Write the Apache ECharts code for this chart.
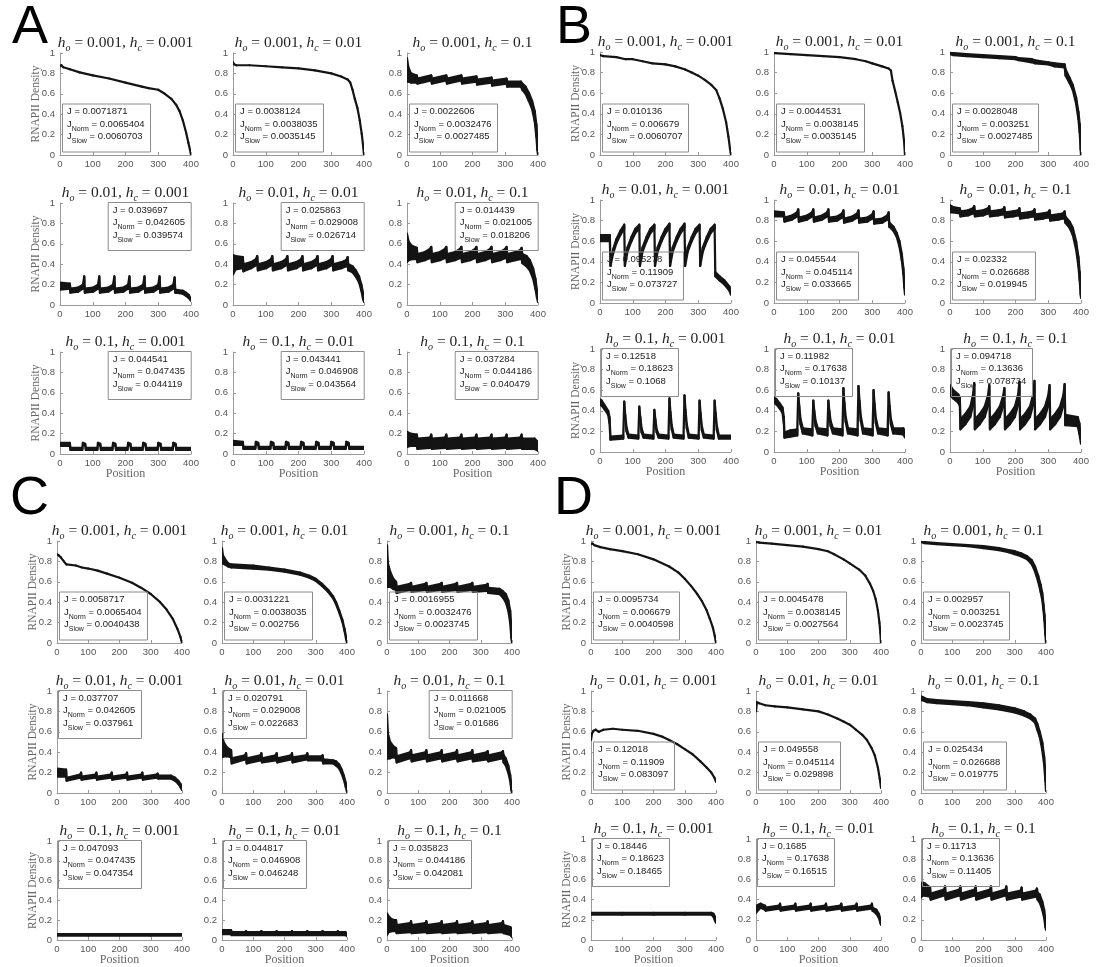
<!DOCTYPE html>
<html>
<head>
<meta charset="utf-8">
<script src="https://cdn.jsdelivr.net/npm/echarts@6/dist/echarts.min.js"></script>
<style>
  html, body { margin: 0; padding: 0; background: #ffffff; }
  #chart { width: 1097px; height: 967px; }
</style>
</head>
<body>
<div id="chart"></div>
<script>
// ---------------------------------------------------------------------------
// Parameter labels (rows: h_o, columns: h_c) and axis ticks
// ---------------------------------------------------------------------------
const hoValues = ['0.001', '0.01', '0.1'];
const hcValues = ['0.001', '0.01', '0.1'];
const positionTicks = [0, 100, 200, 300, 400];
const densityTicks = [0, 0.2, 0.4, 0.6, 0.8, 1];

// ---------------------------------------------------------------------------
// Density profiles. Each point is [position, density] or, where the trace is a
// noisy band, [position, lower edge, upper edge].
// ---------------------------------------------------------------------------
const A_11 = [[0,.87],[4,.88],[10,.86],[30,.84],[60,.81],[100,.78],[150,.75],[200,.71],[250,.67],[270,.655],[300,.64],[320,.60],[340,.55],[355,.49],[365,.43],[375,.34],[385,.22],[392,.12],[397,.05],[400,0]];
const A_12 = [[0,.91],[3,.89],[10,.88],[50,.88],[100,.87],[150,.86],[200,.85],[250,.83],[300,.80],[330,.77],[350,.74],[358,.71],[365,.64],[372,.55],[380,.46],[387,.34],[393,.21],[397,.10],[400,0]];
const A_13 = [[0,.72,.95],[4,.72,.86],[12,.71,.80],[30,.71,.78],[32,.70,.75],[74,.73,.78],[76,.70,.75],[120,.73,.78],[122,.70,.75],[166,.73,.78],[168,.70,.75],[212,.72,.77],[214,.69,.74],[258,.71,.76],[260,.68,.73],[304,.70,.75],[306,.67,.72],[348,.67,.72],[352,.64,.70],[362,.60,.67],[372,.53,.61],[382,.45,.53],[390,.33,.43],[395,.18,.30],[398,.05,.15],[400,0,.03]];
const A_21 = [[0,.15,.22],[30,.16,.21],[32,.12,.16],
  [55,.13,.17],[70,.16,.20],[74,.22,.28],[76,.12,.16],
  [101,.13,.17],[116,.16,.20],[120,.22,.28],[122,.12,.16],
  [147,.13,.17],[162,.16,.20],[166,.22,.28],[168,.12,.16],
  [193,.13,.17],[208,.16,.20],[212,.22,.28],[214,.12,.16],
  [239,.13,.17],[254,.16,.20],[258,.22,.28],[260,.12,.16],
  [285,.13,.17],[300,.16,.20],[304,.22,.28],[306,.12,.16],
  [331,.13,.17],[346,.16,.20],[350,.22,.27],[352,.12,.15],
  [375,.11,.14],[385,.09,.12],[393,.07,.10],[400,.04,.06]];
const A_22 = [[0,.30,.49],[8,.35,.48],[30,.36,.47],[32,.33,.40],
  [55,.36,.42],[70,.39,.45],[74,.42,.48],[76,.34,.40],
  [101,.36,.42],[116,.39,.45],[120,.42,.48],[122,.34,.40],
  [147,.36,.42],[162,.39,.45],[166,.42,.48],[168,.34,.40],
  [193,.36,.42],[208,.39,.45],[212,.42,.48],[214,.34,.40],
  [239,.36,.42],[254,.39,.45],[258,.42,.48],[260,.34,.40],
  [285,.36,.42],[300,.39,.45],[304,.42,.48],[306,.34,.40],
  [331,.36,.42],[346,.38,.44],[350,.41,.47],[352,.34,.40],
  [365,.32,.38],[375,.28,.34],[385,.22,.28],[392,.14,.20],[397,.06,.12],[400,.03,.06]];
const A_23 = [[0,.42,.70],[5,.44,.62],[15,.45,.58],[30,.45,.56],[32,.42,.50],
  [55,.44,.52],[70,.46,.55],[74,.48,.57],[76,.42,.50],
  [101,.44,.52],[116,.46,.55],[120,.48,.57],[122,.42,.50],
  [147,.44,.52],[162,.46,.55],[166,.48,.57],[168,.42,.50],
  [193,.44,.52],[208,.46,.55],[212,.48,.57],[214,.42,.50],
  [239,.44,.52],[254,.46,.55],[258,.48,.57],[260,.42,.50],
  [285,.44,.52],[300,.46,.55],[304,.48,.57],[306,.42,.50],
  [331,.44,.52],[346,.45,.54],[350,.47,.56],[352,.41,.50],
  [365,.38,.48],[375,.34,.44],[385,.26,.36],[392,.16,.26],[397,.07,.14],[400,.03,.06]];
const A_31 = [[0,.08,.11],[30,.08,.11],[32,.04,.06],
  [68,.04,.06],[70,.09,.11],[77,.08,.10],[79,.04,.06],
  [114,.04,.06],[116,.09,.11],[123,.08,.10],[125,.04,.06],
  [160,.04,.06],[162,.09,.11],[169,.08,.10],[171,.04,.06],
  [206,.04,.06],[208,.09,.11],[215,.08,.10],[217,.04,.06],
  [252,.04,.06],[254,.09,.11],[261,.08,.10],[263,.04,.06],
  [298,.04,.06],[300,.09,.11],[307,.08,.10],[309,.04,.06],
  [344,.04,.06],[346,.09,.11],[353,.08,.10],[355,.04,.06],
  [400,.04,.06]];
const A_32 = [[0,.09,.13],[30,.09,.12],[32,.05,.07],
  [68,.05,.07],[70,.09,.12],[77,.09,.11],[79,.05,.07],
  [114,.05,.07],[116,.09,.12],[123,.09,.11],[125,.05,.07],
  [160,.05,.07],[162,.09,.12],[169,.09,.11],[171,.05,.07],
  [206,.05,.07],[208,.09,.12],[215,.09,.11],[217,.05,.07],
  [252,.05,.07],[254,.09,.12],[261,.09,.11],[263,.05,.07],
  [298,.05,.07],[300,.09,.12],[307,.09,.11],[309,.05,.07],
  [344,.05,.07],[346,.09,.12],[353,.09,.11],[355,.05,.07],
  [400,.05,.07]];
const A_33 = [[0,.07,.22],[10,.08,.20],[30,.08,.19],[32,.05,.15],
  [70,.06,.16],[74,.08,.19],[76,.05,.15],
  [116,.06,.16],[120,.08,.19],[122,.05,.15],
  [162,.06,.16],[166,.08,.19],[168,.05,.15],
  [208,.06,.16],[212,.08,.19],[214,.05,.15],
  [254,.06,.16],[258,.08,.19],[260,.05,.15],
  [300,.06,.16],[304,.08,.19],[306,.05,.15],
  [346,.06,.16],[350,.08,.19],[352,.05,.15],
  [390,.05,.15],[396,.04,.13],[400,.03,.10]];

const B_11 = [[0,.97],[10,.96],[50,.95],[78,.93],[100,.93],[130,.91],[160,.89],[200,.88],[230,.86],[260,.83],[280,.80],[300,.77],[320,.73],[340,.68],[355,.63],[365,.55],[375,.45],[385,.32],[392,.18],[397,.06],[400,0]];
const B_12 = [[0,.99],[50,.98],[100,.97],[150,.96],[200,.95],[250,.93],[280,.91],[300,.89],[330,.86],[350,.84],[357,.82],[362,.72],[370,.62],[378,.51],[385,.41],[392,.28],[397,.14],[400,0]];
const B_13 = [[0,.98,1.0],[10,.97,.99],[50,.96,.98],[100,.95,.97],[150,.94,.96],[200,.93,.95],[210,.92,.94],[250,.90,.93],[260,.89,.92],[300,.88,.90],[320,.86,.89],[350,.85,.88],[353,.77,.83],[365,.70,.75],[375,.63,.68],[385,.50,.56],[392,.35,.42],[396,.22,.30],[399,.05,.15],[400,0,.02]];
const B_21 = [[0,.60,.66],[30,.60,.66],[32,.36,.40],[40,.48,.52],[50,.58,.62],[62,.66,.70],[74,.72,.76],
  [76,.36,.40],[84,.50,.54],[96,.60,.64],[108,.68,.72],[120,.72,.76],
  [122,.36,.40],[130,.50,.54],[142,.60,.64],[154,.68,.72],[166,.72,.76],
  [168,.36,.40],[176,.50,.54],[188,.60,.64],[200,.68,.72],[212,.73,.77],
  [214,.36,.40],[222,.50,.54],[234,.60,.64],[246,.68,.72],[258,.73,.77],
  [260,.36,.40],[268,.50,.54],[280,.60,.64],[292,.68,.72],[304,.72,.76],
  [306,.36,.40],[314,.50,.54],[326,.60,.64],[338,.68,.72],[350,.72,.76],
  [352,.26,.30],[365,.22,.26],[380,.18,.22],[395,.12,.16],[400,.08,.11]];
const B_22 = [[0,.84,.89],[30,.84,.88],[32,.79,.83],
  [55,.81,.85],[70,.84,.88],[74,.87,.91],[76,.79,.83],
  [101,.81,.85],[116,.84,.88],[120,.87,.91],[122,.79,.83],
  [147,.81,.85],[162,.84,.88],[166,.87,.91],[168,.79,.83],
  [193,.80,.84],[208,.83,.87],[212,.86,.90],[214,.78,.82],
  [239,.80,.84],[254,.83,.87],[258,.86,.90],[260,.78,.82],
  [285,.79,.83],[300,.82,.86],[304,.85,.89],[306,.77,.81],
  [331,.78,.82],[346,.81,.85],[350,.84,.88],[352,.74,.78],
  [365,.70,.74],[375,.64,.68],[383,.55,.60],[390,.42,.48],[395,.28,.34],[398,.15,.20],[400,.08,.12]];
const B_23 = [[0,.88,.95],[10,.88,.93],[30,.87,.92],[32,.84,.89],
  [55,.85,.90],[70,.87,.92],[74,.89,.94],[76,.84,.89],
  [101,.85,.90],[116,.87,.92],[120,.89,.94],[122,.84,.89],
  [147,.85,.90],[162,.86,.91],[166,.88,.93],[168,.83,.88],
  [193,.84,.89],[208,.85,.90],[212,.87,.92],[214,.82,.87],
  [239,.83,.88],[254,.84,.89],[258,.86,.91],[260,.81,.86],
  [285,.82,.87],[300,.83,.88],[304,.85,.90],[306,.80,.85],
  [331,.81,.86],[346,.82,.87],[350,.84,.89],[352,.78,.84],
  [365,.73,.79],[375,.66,.73],[385,.52,.60],[392,.36,.45],[396,.22,.30],[399,.08,.15],[400,.05,.08]];
const B_31 = [[0,.46,.51],[5,.45,.50],[15,.41,.45],[25,.36,.40],[29,.28,.34],[32,.12,.15],
  [71,.13,.16],[74,.46,.49],[77,.32,.36],[81,.20,.24],[87,.14,.17],
  [117,.13,.16],[120,.41,.44],[123,.30,.34],[127,.19,.23],[133,.14,.17],
  [163,.13,.16],[166,.38,.41],[169,.28,.32],[173,.19,.22],[179,.14,.17],
  [209,.13,.16],[212,.49,.52],[215,.35,.39],[219,.22,.26],[225,.14,.17],
  [255,.13,.16],[258,.52,.55],[261,.37,.41],[265,.23,.27],[271,.14,.17],
  [301,.13,.16],[304,.47,.50],[307,.34,.38],[311,.21,.25],[317,.14,.17],
  [347,.13,.16],[350,.47,.50],[353,.34,.38],[357,.21,.25],[363,.13,.16],
  [400,.13,.16]];
const B_32 = [[0,.48,.53],[8,.46,.51],[18,.42,.47],[26,.38,.43],[30,.28,.34],[32,.14,.19],
  [50,.15,.21],[71,.16,.22],[74,.53,.57],[77,.40,.45],[81,.27,.32],[88,.18,.23],
  [117,.16,.22],[120,.46,.50],[123,.36,.40],[127,.25,.30],[134,.18,.23],
  [163,.16,.22],[166,.46,.50],[169,.36,.40],[173,.25,.30],[180,.18,.23],
  [209,.16,.22],[212,.58,.62],[215,.43,.48],[219,.29,.34],[226,.18,.23],
  [255,.16,.22],[258,.60,.64],[261,.45,.50],[265,.30,.35],[272,.18,.23],
  [301,.16,.22],[304,.56,.60],[307,.42,.47],[311,.28,.33],[318,.18,.23],
  [347,.16,.22],[350,.54,.58],[353,.40,.45],[357,.27,.32],[364,.18,.23],
  [395,.17,.23],[400,.14,.18]];
const B_33 = [[0,.55,.65],[10,.52,.60],[25,.48,.56],[30,.45,.53],[32,.22,.32],
  [47,.27,.37],[62,.34,.44],[70,.45,.55],[74,.58,.67],[76,.22,.32],
  [91,.27,.37],[106,.34,.44],[116,.45,.55],[120,.56,.65],[122,.22,.32],
  [137,.27,.37],[152,.34,.44],[162,.44,.54],[166,.54,.62],[168,.22,.32],
  [183,.27,.37],[198,.34,.44],[208,.46,.56],[212,.60,.68],[214,.22,.32],
  [229,.27,.37],[244,.34,.44],[254,.46,.56],[258,.60,.69],[260,.22,.32],
  [275,.27,.37],[290,.34,.44],[300,.45,.55],[304,.56,.65],[306,.22,.32],
  [321,.27,.37],[336,.34,.44],[346,.45,.55],[350,.58,.66],[352,.26,.36],
  [390,.25,.34],[395,.18,.28],[400,.08,.12]];

const C_11 = [[0,.87],[5,.86],[12,.84],[22,.80],[30,.77],[60,.76],[80,.74],[100,.73],[130,.71],[160,.68],[200,.64],[240,.59],[270,.54],[300,.48],[330,.40],[350,.33],[370,.24],[385,.14],[395,.06],[400,0]];
const C_12 = [[0,.78,.93],[3,.78,.86],[10,.77,.82],[20,.75,.78],[30,.74,.77],[100,.73,.76],[150,.72,.74],[200,.70,.72],[250,.67,.69],[280,.64,.66],[300,.61,.63],[320,.56,.58],[340,.50,.52],[355,.44,.46],[365,.38,.40],[375,.30,.32],[385,.21,.23],[392,.12,.14],[397,.04,.06],[400,0,.01]];
const C_13 = [[0,.55,.96],[3,.55,.78],[10,.55,.70],[20,.53,.63],[29,.52,.60],[31,.49,.55],
  [74,.52,.58],[77,.53,.59],[79,.50,.55],[123,.52,.58],[126,.53,.59],[128,.50,.55],
  [172,.52,.58],[175,.53,.59],[177,.50,.55],[221,.52,.58],[224,.53,.59],[226,.50,.55],
  [270,.52,.58],[273,.53,.59],[275,.50,.55],[319,.51,.57],[322,.52,.58],[324,.49,.54],
  [360,.48,.53],[370,.45,.51],[380,.40,.48],[388,.32,.42],[394,.20,.32],[398,.05,.15],[400,0,.02]];
const C_21 = [[0,.16,.24],[29,.16,.23],[31,.12,.15],
  [74,.15,.18],[77,.17,.20],[79,.13,.16],[123,.15,.18],[126,.17,.20],[128,.13,.16],
  [172,.15,.18],[175,.17,.20],[177,.13,.16],[221,.15,.18],[224,.17,.20],[226,.13,.16],
  [270,.15,.18],[273,.17,.20],[275,.13,.16],[319,.15,.18],[322,.16,.19],[324,.14,.17],
  [365,.14,.17],[378,.12,.15],[388,.09,.12],[395,.06,.09],[400,.03,.05]];
const C_22 = [[0,.35,.58],[5,.36,.50],[15,.36,.45],[29,.35,.42],[31,.29,.34],
  [74,.33,.37],[77,.34,.39],[79,.29,.34],[123,.32,.37],[126,.34,.39],[128,.30,.34],
  [172,.32,.37],[175,.34,.39],[177,.30,.34],[221,.33,.37],[224,.34,.39],[226,.30,.35],
  [270,.33,.37],[273,.34,.39],[275,.32,.36],[319,.32,.36],[322,.32,.37],[324,.29,.33],
  [355,.29,.32],[365,.27,.31],[375,.24,.28],[383,.19,.23],[390,.13,.17],[396,.06,.10],[400,.01,.04]];
const C_23 = [[0,.33,.77],[3,.34,.58],[10,.34,.50],[20,.35,.46],[29,.34,.44],[31,.30,.36],
  [74,.34,.40],[77,.35,.42],[79,.31,.37],[123,.34,.40],[126,.35,.42],[128,.31,.37],
  [172,.34,.40],[175,.35,.42],[177,.31,.37],[221,.34,.40],[224,.35,.42],[226,.31,.37],
  [270,.34,.40],[273,.35,.42],[275,.31,.37],[319,.33,.40],[322,.34,.41],[324,.31,.37],
  [368,.34,.40],[371,.34,.41],[373,.30,.37],
  [380,.27,.34],[388,.20,.27],[394,.12,.18],[398,.03,.08],[400,0,.02]];
const C_31 = [[0,.045,.06],[100,.045,.06],[200,.045,.06],[300,.045,.06],[400,.045,.06]];
const C_32 = [[0,.06,.10],[29,.06,.10],[31,.05,.08],
  [74,.05,.08],[77,.06,.09],[79,.05,.08],[123,.05,.08],[126,.06,.09],[128,.05,.08],
  [172,.05,.08],[175,.06,.09],[177,.05,.08],[221,.05,.08],[224,.06,.09],[226,.05,.08],
  [270,.05,.08],[273,.06,.09],[275,.05,.08],[319,.05,.08],[322,.06,.09],[324,.05,.08],
  [368,.05,.08],[371,.06,.09],[373,.05,.08],[395,.05,.08],[400,.04,.06]];
const C_33 = [[0,.05,.27],[5,.08,.24],[15,.09,.21],[29,.09,.20],[31,.07,.15],
  [74,.08,.17],[77,.09,.19],[79,.07,.15],[123,.08,.17],[126,.09,.19],[128,.07,.15],
  [172,.08,.17],[175,.09,.19],[177,.07,.15],[221,.08,.17],[224,.09,.19],[226,.07,.15],
  [270,.08,.17],[273,.09,.19],[275,.07,.15],[319,.08,.17],[322,.09,.19],[324,.07,.15],
  [368,.08,.17],[371,.09,.19],[373,.07,.15],[395,.05,.13],[400,.03,.09]];

const D_11 = [[0,.97],[5,.975],[10,.96],[30,.94],[60,.92],[100,.90],[150,.87],[200,.82],[250,.75],[280,.69],[300,.63],[320,.56],[340,.48],[355,.41],[370,.32],[380,.24],[390,.15],[396,.07],[400,0]];
const D_12 = [[0,.99],[10,.985],[50,.975],[100,.96],[150,.945],[200,.92],[230,.90],[250,.87],[280,.82],[300,.78],[330,.72],[350,.66],[365,.58],[375,.51],[383,.43],[390,.32],[395,.20],[398,.10],[400,0]];
const D_13 = [[0,.99,1.0],[10,.98,.99],[50,.97,.98],[100,.96,.97],[150,.95,.96],[200,.93,.95],[250,.91,.93],[280,.89,.91],[300,.87,.90],[320,.85,.88],[340,.82,.85],[355,.77,.81],[365,.70,.75],[375,.60,.66],[383,.50,.57],[388,.42,.49],[392,.32,.38],[395,.22,.28],[398,.08,.14],[400,0,.02]];
const D_21 = [[0,.52],[3,.58],[8,.61],[15,.62],[25,.60],[40,.62],[70,.63],[100,.62],[150,.61],[200,.58],[230,.55],[250,.52],[275,.48],[300,.43],[325,.38],[350,.31],[370,.25],[385,.20],[395,.15],[400,.11]];
const D_22 = [[0,.80],[3,.89],[10,.88],[30,.86],[60,.85],[100,.84],[150,.82],[200,.80],[230,.77],[260,.73],[280,.70],[300,.67],[320,.62],[340,.57],[355,.52],[370,.44],[380,.37],[390,.25],[396,.14],[400,.05]];
const D_23 = [[0,.91,.95],[5,.91,.94],[20,.89,.92],[50,.88,.91],[100,.87,.90],[150,.86,.89],[200,.84,.88],[250,.82,.86],[300,.79,.83],[330,.76,.80],[350,.73,.77],[365,.69,.73],[372,.62,.68],[380,.55,.60],[388,.42,.50],[394,.28,.36],[398,.12,.20],[400,.02,.05]];
const D_31 = [[0,.25,.27],[100,.25,.27],[200,.25,.27],[300,.25,.27],[385,.25,.27],[392,.23,.26],[397,.19,.23],[400,.17,.20]];
const D_32 = [[0,.27,.34],[8,.30,.35],[15,.32,.36],[29,.30,.34],[31,.29,.32],
  [74,.31,.34],[77,.32,.36],[79,.29,.32],[123,.31,.34],[126,.32,.36],[128,.29,.32],
  [172,.31,.34],[175,.32,.36],[177,.29,.32],[221,.31,.34],[224,.32,.36],[226,.29,.32],
  [270,.31,.34],[273,.32,.36],[275,.29,.32],[319,.31,.34],[322,.32,.36],[324,.29,.32],
  [368,.31,.34],[371,.32,.36],[373,.29,.32],[385,.26,.30],[393,.22,.26],[398,.17,.21],[400,.15,.18]];
const D_33 = [[0,.42,.55],[5,.44,.57],[12,.44,.56],[29,.43,.52],[31,.40,.46],
  [74,.44,.50],[77,.46,.53],[79,.40,.46],[123,.44,.50],[126,.46,.53],[128,.40,.46],
  [172,.44,.50],[175,.46,.53],[177,.40,.46],[221,.44,.50],[224,.46,.53],[226,.40,.46],
  [270,.44,.50],[273,.46,.53],[275,.40,.46],[319,.43,.49],[322,.45,.52],[324,.40,.46],
  [368,.43,.49],[371,.45,.51],[373,.40,.47],[380,.37,.45],[388,.30,.38],[394,.22,.30],[398,.13,.20],[400,.10,.14]];

// ---------------------------------------------------------------------------
// Flux values shown in each subplot: [J, J_Norm, J_Slow], row by row
// ---------------------------------------------------------------------------
const A_J = [
  ['0.0071871','0.0065404','0.0060703'], ['0.0038124','0.0038035','0.0035145'], ['0.0022606','0.0032476','0.0027485'],
  ['0.039697','0.042605','0.039574'],    ['0.025863','0.029008','0.026714'],    ['0.014439','0.021005','0.018206'],
  ['0.044541','0.047435','0.044119'],    ['0.043441','0.046908','0.043564'],    ['0.037284','0.044186','0.040479']];
const B_J = [
  ['0.010136','0.006679','0.0060707'],   ['0.0044531','0.0038145','0.0035145'], ['0.0028048','0.003251','0.0027485'],
  ['0.095278','0.11909','0.073727'],     ['0.045544','0.045114','0.033665'],    ['0.02332','0.026688','0.019945'],
  ['0.12518','0.18623','0.1068'],        ['0.11982','0.17638','0.10137'],       ['0.094718','0.13636','0.078734']];
const C_J = [
  ['0.0058717','0.0065404','0.0040438'], ['0.0031221','0.0038035','0.002756'],  ['0.0016955','0.0032476','0.0023745'],
  ['0.037707','0.042605','0.037961'],    ['0.020791','0.029008','0.022683'],    ['0.011668','0.021005','0.01686'],
  ['0.047093','0.047435','0.047354'],    ['0.044817','0.046908','0.046248'],    ['0.035823','0.044186','0.042081']];
const D_J = [
  ['0.0095734','0.006679','0.0040598'],  ['0.0045478','0.0038145','0.0027564'], ['0.002957','0.003251','0.0023745'],
  ['0.12018','0.11909','0.083097'],      ['0.049558','0.045114','0.029898'],    ['0.025434','0.026688','0.019775'],
  ['0.18446','0.18623','0.18465'],       ['0.1685','0.17638','0.16515'],        ['0.11713','0.13636','0.11405']];

const PANELS = {
  A: { curves: [A_11, A_12, A_13, A_21, A_22, A_23, A_31, A_32, A_33], flux: A_J },
  B: { curves: [B_11, B_12, B_13, B_21, B_22, B_23, B_31, B_32, B_33], flux: B_J },
  C: { curves: [C_11, C_12, C_13, C_21, C_22, C_23, C_31, C_32, C_33], flux: C_J },
  D: { curves: [D_11, D_12, D_13, D_21, D_22, D_23, D_31, D_32, D_33], flux: D_J }
};

// ---------------------------------------------------------------------------
// Layout (pixels) and styling
// ---------------------------------------------------------------------------
const LAYOUT = {
  A: { cols: [60, 233, 407], rows: [53, 203, 352], w: 131, h: 102, letter: [12, 1],
       box: [['bl','bl','bl'], ['tr','tr','tr'], ['tr','tr','tr']] },
  B: { cols: [600, 774, 950], rows: [52, 200, 349], w: 131, h: 103, letter: [556, 1],
       box: [['bl','bl','bl'], ['bl','bl','bl'], ['tl','tl','tl']] },
  C: { cols: [57, 222, 387], rows: [541, 691, 841], w: 125, h: 102, letter: [10, 472],
       box: [['bl','bl','bl'], ['tl','tl','tr'], ['tl','tl','tl']] },
  D: { cols: [591, 756, 921], rows: [541, 691, 839], w: 125, h: 102, letter: [554, 472],
       box: [['bl','bl','bl'], ['bl','bl','bl'], ['tl','tl','tl']] }
};
const W = 1097, H = 967;
const SERIF = "'Liberation Serif', 'DejaVu Serif', serif";
const SANS = "'Liberation Sans', Arial, sans-serif";
const AXIS_GRAY = '#9a9a9a';
const LABEL_GRAY = '#555555';
const INK = '#141414';
const LINE_W = 2.2;

// Consecutive points of a trace, paired up so each item describes one band segment
function toSegments(pts) {
  const out = [];
  for (let i = 0; i < pts.length - 1; i++) {
    const a = pts[i], b = pts[i + 1];
    const aHi = a.length > 2 ? a[2] : a[1];
    const bHi = b.length > 2 ? b[2] : b[1];
    out.push([a[0], a[1], aHi, b[0], b[1], bHi]);
  }
  return out;
}

function renderBand(params, api) {
  const p1 = api.coord([api.value(0), api.value(1)]);
  const p2 = api.coord([api.value(0), api.value(2)]);
  const p3 = api.coord([api.value(3), api.value(5)]);
  const p4 = api.coord([api.value(3), api.value(4)]);
  return {
    type: 'polygon',
    shape: { points: [p1, p2, p3, p4] },
    style: { fill: INK, stroke: INK, lineWidth: LINE_W, lineJoin: 'round' }
  };
}

const grid = [], xAxis = [], yAxis = [], series = [], title = [];

Object.keys(PANELS).forEach(function (p) {
  const L = LAYOUT[p];
  const P = PANELS[p];
  // panel letter
  title.push({
    text: p, left: L.letter[0], top: L.letter[1], padding: 0,
    textVerticalAlign: 'top',
    textStyle: { fontFamily: SANS, fontSize: 54, fontWeight: 'normal', color: '#000' }
  });
  for (let r = 0; r < 3; r++) {
    for (let c = 0; c < 3; c++) {
      const idx = grid.length;
      const left = L.cols[c], top = L.rows[r];
      grid.push({ left: left, top: top, width: L.w, height: L.h, containLabel: false });

      xAxis.push({
        gridIndex: idx, type: 'value',
        min: positionTicks[0], max: positionTicks[positionTicks.length - 1],
        interval: positionTicks[1] - positionTicks[0],
        axisLine: { show: true, onZero: false, lineStyle: { color: AXIS_GRAY, width: 1 } },
        axisTick: { show: true, inside: true, length: 3, lineStyle: { color: AXIS_GRAY } },
        axisLabel: { color: LABEL_GRAY, fontFamily: SANS, fontSize: 9.5, margin: 4 },
        splitLine: { show: false },
        name: r === 2 ? 'Position' : '', nameLocation: 'middle', nameGap: 14,
        nameMoveOverlap: false,
        nameTextStyle: { fontFamily: SERIF, fontSize: 12, color: '#666' }
      });
      yAxis.push({
        gridIndex: idx, type: 'value',
        min: densityTicks[0], max: densityTicks[densityTicks.length - 1],
        interval: densityTicks[1] - densityTicks[0],
        axisLine: { show: true, onZero: false, lineStyle: { color: AXIS_GRAY, width: 1 } },
        axisTick: { show: true, inside: true, length: 3, lineStyle: { color: AXIS_GRAY } },
        axisLabel: { color: LABEL_GRAY, fontFamily: SANS, fontSize: 9.5, margin: 5 },
        splitLine: { show: false },
        name: c === 0 ? 'RNAPII Density' : '', nameLocation: 'middle', nameGap: 18,
        nameMoveOverlap: false,
        nameTextStyle: { fontFamily: SERIF, fontSize: 11.5, color: '#666' }
      });

      // density trace drawn as a filled band between its lower and upper edges
      series.push({
        type: 'custom', xAxisIndex: idx, yAxisIndex: idx,
        data: toSegments(P.curves[r * 3 + c]),
        encode: { x: [0, 3], y: [1, 2, 4, 5] },
        renderItem: renderBand, clip: true, silent: true, animation: false, z: 3
      });

      // subplot title: h_o = ..., h_c = ...
      title.push({
        text: '{i|h}{s|o} = ' + hoValues[r] + ', {i|h}{s|c} = ' + hcValues[c],
        left: left + L.w / 2, top: top - 10, padding: 0,
        textAlign: 'center', textVerticalAlign: 'middle',
        textStyle: {
          fontFamily: SERIF, fontSize: 15.5, fontWeight: 'normal', color: '#222', lineHeight: 16,
          rich: {
            i: { fontFamily: SERIF, fontSize: 15.5, fontStyle: 'italic', fontWeight: 'normal', color: '#222' },
            s: { fontFamily: SERIF, fontSize: 10, fontStyle: 'italic', fontWeight: 'normal', color: '#222',
                 verticalAlign: 'bottom', height: 5 }
          }
        }
      });

      // flux box
      const j = P.flux[r * 3 + c];
      const where = L.box[r][c];
      const box = {
        text: 'J = ' + j[0] + '\nJ{s|Norm} = ' + j[1] + '\nJ{s|Slow} = ' + j[2],
        padding: [2, 6, 7, 5], borderColor: '#8c8c8c', borderWidth: 1,
        textVerticalAlign: 'top',
        textStyle: {
          fontFamily: SANS, fontSize: 9.5, fontWeight: 'normal', color: '#222', lineHeight: 12.5,
          rich: {
            s: { fontFamily: SANS, fontSize: 7, fontWeight: 'normal', color: '#222',
                 verticalAlign: 'bottom', height: 3 }
          }
        }
      };
      if (where === 'bl') {
        box.left = left + 2; box.bottom = H - (top + L.h - 3);
      } else if (where === 'tl') {
        box.left = left + 1; box.top = top - 1;
      } else {
        box.right = W - (left + L.w); box.top = top - 1;
      }
      title.push(box);
    }
  }
});

const chart = echarts.init(document.getElementById('chart'), null, { renderer: 'canvas', width: W, height: H });
chart.setOption({
  backgroundColor: '#ffffff',
  animation: false,
  title: title,
  grid: grid,
  xAxis: xAxis,
  yAxis: yAxis,
  series: series
});
</script>
</body>
</html>
